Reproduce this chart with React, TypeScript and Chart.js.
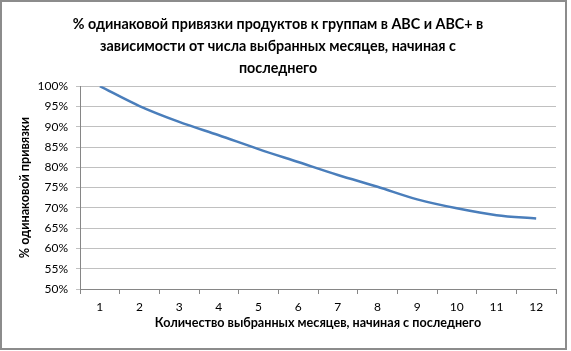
import React, { useEffect, useRef } from "react";
import { Chart, registerables } from "chart.js";

Chart.register(...registerables);

const months = ["1", "2", "3", "4", "5", "6", "7", "8", "9", "10", "11", "12"];
const samePct = [100, 95.1, 91.2, 87.9, 84.5, 81.3, 78.1, 75.2, 72.1, 69.9, 68.2, 67.4];
const titleLines = [
  "% одинаковой привязки продуктов к группам в ABC и ABC+ в",
  "зависимости от числа выбранных месяцев, начиная с",
  "последнего",
];
const xTitle = "Количество выбранных месяцев, начиная с последнего";
const yTitle = "% одинаковой привязки";

const FONT = "Lato, 'Open Sans', sans-serif";

const borderPlugin = {
  id: "outerBorder",
  afterDraw(chart: any) {
    const ctx = chart.ctx;
    ctx.save();
    ctx.strokeStyle = "#8c8c8c";
    ctx.lineWidth = 2;
    ctx.strokeRect(1, 1, 565, 348);
    ctx.restore();
  },
};

export default function App() {
  const ref = useRef<HTMLCanvasElement | null>(null);
  useEffect(() => {
    document.body.style.margin = "0";
    const chart = new Chart(ref.current!, {
      type: "line",
      data: {
        labels: months,
        datasets: [
          {
            data: samePct,
            borderColor: "#4a7ebb",
            borderWidth: 2.5,
            pointRadius: 0,
            fill: false,
            cubicInterpolationMode: "monotone",
          },
        ],
      },
      options: {
        animation: false,
        responsive: false,
        layout: { padding: { left: 0, right: 15, top: 0, bottom: 0 } },
        plugins: {
          legend: { display: false },
          tooltip: { enabled: false },
          title: {
            display: true,
            text: titleLines,
            color: "#000",
            font: { family: FONT, size: 14.3, weight: "bold", lineHeight: 1.52 },
            padding: { top: 14, bottom: 7 },
          },
        },
        scales: {
          x: {
            type: "category",
            offset: true,
            grid: {
              offset: true,
              drawOnChartArea: false,
              drawTicks: true,
              tickLength: 5,
              color: "#868686",
            },
            border: { color: "#868686", width: 1 },
            ticks: {
              color: "#000",
              font: { family: FONT, size: 12 },
              padding: 6,
              maxRotation: 0,
              autoSkip: false,
            },
            title: {
              display: true,
              text: xTitle,
              color: "#000",
              font: { family: FONT, size: 12.6, weight: "bold" },
              padding: { top: 0, bottom: 21 },
            },
            afterFit(scale: any) {
              scale.height = 62;
            },
          },
          y: {
            min: 50,
            max: 100,
            grid: {
              color: "#c0c0c0",
              tickLength: 4,
              drawTicks: true,
            },
            border: { color: "#868686", width: 1 },
            ticks: {
              stepSize: 5,
              color: "#000",
              font: { family: FONT, size: 12 },
              padding: 8,
              callback: (v: any) => v + "%",
            },
            title: {
              display: true,
              text: yTitle,
              color: "#000",
              font: { family: FONT, size: 12.6, weight: "bold" },
              padding: { top: 17, bottom: 0 },
            },
            afterFit(scale: any) {
              scale.width = 80;
            },
          },
        },
      },
      plugins: [borderPlugin],
    });
    return () => chart.destroy();
  }, []);
  return <canvas ref={ref} width={571} height={351} style={{ display: "block" }} />;
}
